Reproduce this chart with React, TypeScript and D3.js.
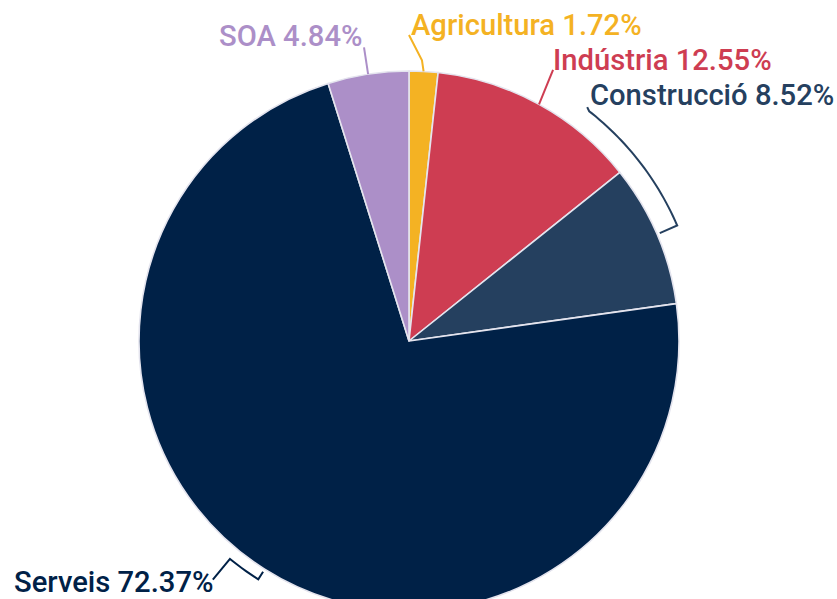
import React from 'react';
import * as d3 from 'd3';

const categories = ['Agricultura', 'Indústria', 'Construcció', 'Serveis', 'SOA'];
const shares = [1.72, 12.55, 8.52, 72.37, 4.84];
const colors = ['#f4b223', '#ce3d52', '#25405f', '#002147', '#ac8fc8'];

// label placement (layout only): text spot + connector as [deg offset from slice middle, radius]
const labelPos: [number, number][] = [
  [411, 35],
  [553, 70],
  [590, 105],
  [14, 592],
  [219, 46],
];
const connectors: [number, number][][] = [
  [[0, 270], [-0.45, 281], [-3.1, 306]],
  [[0, 270], [-0.8, 307]],
  [[0, 273], [0, 292], ...d3.range(0, -28.7, -1).map((a) => [a, 292] as [number, number]), [-28.6, 292], [-29.4, 294]],
  [[0, 273], [0, 282], ...d3.range(0, 7.2, 1).map((a) => [a, 282] as [number, number]), [7.1, 282], [7.1, 309]],
  [[0, 270], [0, 297]],
];

const W = 837;
const H = 599;
const cx = 409;
const cy = 341;
const R = 270;

export default function App() {
  const data = categories.map((c, i) => ({ name: c, value: shares[i], color: colors[i] }));
  const arcs = d3
    .pie<any>()
    .sort(null)
    .value((d) => d.value)(data);
  const arcGen = d3.arc<any>().innerRadius(0).outerRadius(R);
  const polar = (deg: number, r: number): [number, number] => {
    const a = (deg * Math.PI) / 180;
    return [cx + r * Math.sin(a), cy - r * Math.cos(a)];
  };
  const lineGen = d3.line();

  return (
    <div>
      <style>{'body{margin:0}'}</style>
      <svg width={W} height={H} style={{ display: 'block' }}>
        <g transform={`translate(${cx},${cy})`}>
          {arcs.map((a, i) => (
            <path key={i} d={arcGen(a) as string} fill={a.data.color} stroke="#e4e4ee" strokeWidth={1.6} strokeLinejoin="round" />
          ))}
        </g>
        {arcs.map((a, i) => {
          const mid = (((a.startAngle + a.endAngle) / 2) * 180) / Math.PI;
          const pts = connectors[i].map(([off, r]) => polar(mid + off, r));
          return (
            <path key={'c' + i} d={lineGen(pts) as string} fill="none" stroke={a.data.color} strokeWidth={2} strokeLinejoin="miter" />
          );
        })}
        {arcs.map((a, i) => (
          <text
            key={'t' + i}
            x={labelPos[i][0]}
            y={labelPos[i][1]}
            fill={a.data.color}
            fontFamily="Roboto, sans-serif"
            fontWeight={500}
            fontSize={29.2}
          >
            {`${a.data.name} ${a.data.value.toFixed(2)}%`}
          </text>
        ))}
      </svg>
    </div>
  );
}
